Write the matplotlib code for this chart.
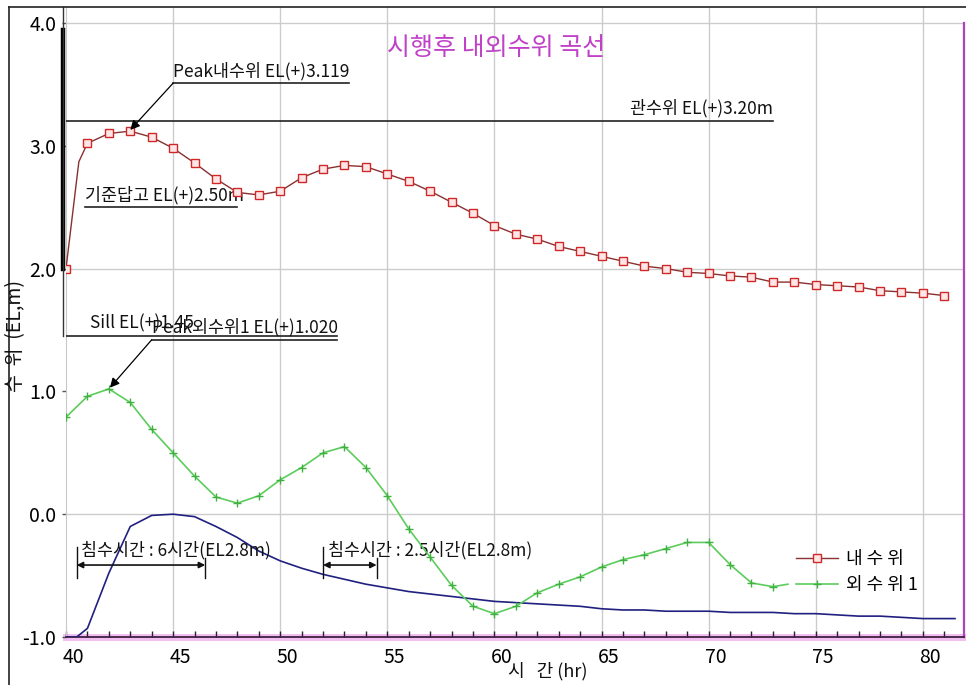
import matplotlib
matplotlib.use("Agg")
import matplotlib.pyplot as plt
from matplotlib.lines import Line2D
from matplotlib.transforms import ScaledTranslation

plt.rcParams["font.family"] = ["Noto Sans CJK KR", "DejaVu Sans"]

# ---- data -------------------------------------------------------------
inner_hours = [40, 40.6, 41, 42, 43, 44, 45, 46, 47, 48, 49, 50, 51, 52, 53, 54,
               55, 56, 57, 58, 59, 60, 61, 62, 63, 64, 65, 66, 67, 68, 69, 70,
               71, 72, 73, 74, 75, 76, 77, 78, 79, 80, 81]
inner_level = [2.00, 2.87, 3.02, 3.10, 3.119, 3.07, 2.98, 2.86, 2.73, 2.62, 2.60,
               2.63, 2.74, 2.81, 2.84, 2.83, 2.77, 2.71, 2.63, 2.54, 2.45, 2.35,
               2.28, 2.24, 2.18, 2.14, 2.10, 2.06, 2.02, 2.00, 1.97, 1.96, 1.94,
               1.93, 1.89, 1.89, 1.87, 1.86, 1.85, 1.82, 1.81, 1.80, 1.78]

outer_hours = [40, 41, 42, 43, 44, 45, 46, 47, 48, 49, 50, 51, 52, 53, 54, 55,
               56, 57, 58, 59, 60, 61, 62, 63, 64, 65, 66, 67, 68, 69, 70, 71,
               72, 73, 73.7]
outer_level = [0.79, 0.96, 1.020, 0.91, 0.69, 0.50, 0.31, 0.14, 0.09, 0.15, 0.28,
               0.38, 0.50, 0.55, 0.38, 0.15, -0.12, -0.35, -0.58, -0.75, -0.81,
               -0.75, -0.64, -0.57, -0.51, -0.43, -0.37, -0.33, -0.28, -0.23,
               -0.23, -0.41, -0.56, -0.59, -0.57]

aux_hours = [40, 40.5, 41, 42, 43, 44, 45, 46, 47, 48, 49, 50, 51, 52, 53, 54,
             55, 56, 57, 58, 59, 60, 61, 62, 63, 64, 65, 66, 67, 68, 69, 70, 71,
             72, 73, 74, 75, 76, 77, 78, 79, 80, 81, 81.5]
aux_level = [-1.00, -1.00, -0.93, -0.48, -0.10, -0.01, 0.00, -0.02, -0.10, -0.19,
             -0.30, -0.38, -0.44, -0.49, -0.53, -0.57, -0.60, -0.63, -0.65, -0.67,
             -0.69, -0.71, -0.72, -0.73, -0.74, -0.75, -0.77, -0.78, -0.78, -0.79,
             -0.79, -0.79, -0.80, -0.80, -0.80, -0.81, -0.81, -0.82, -0.83, -0.83,
             -0.84, -0.85, -0.85, -0.85]

levee_level = 3.20        # 관수위
paddy_level = 2.50        # 기준답고
sill_level = 1.45         # Sill
peak_inner = (43, 3.119)
peak_outer = (42, 1.020)
flood_spans = [(40.5, 46.5, "침수시간 : 6시간(EL2.8m)"),
               (52.0, 54.5, "침수시간 : 2.5시간(EL2.8m)")]

x_ticks = [40, 45, 50, 55, 60, 65, 70, 75, 80]
y_ticks = [-1.0, 0.0, 1.0, 2.0, 3.0, 4.0]

# ---- figure -----------------------------------------------------------
W, H = 966, 685
fig = plt.figure(figsize=(W / 100, H / 100), dpi=100)
fig.patch.set_facecolor("white")

# outer frame (top and left edges)
fig.add_artist(Line2D([9 / W, 1], [1 - 7 / H, 1 - 7 / H], transform=fig.transFigure,
                      color="#222222", lw=1.2))
fig.add_artist(Line2D([9 / W, 9 / W], [0, 1 - 7 / H], transform=fig.transFigure,
                      color="#222222", lw=1.2))

ax = fig.add_axes([66 / W, 48 / H, (964 - 66) / W, (678 - 48) / H])
ax.set_xlim(40, 81.92)
ax.set_ylim(-1.0, 4.13)

# grid
grid_c = "#cccccc"
for gx in x_ticks[1:]:
    ax.axvline(gx, color=grid_c, lw=1.0, zorder=0.5)
for gy in [0.0, 2.0, 4.0]:
    ax.axhline(gy, color=grid_c, lw=1.0, zorder=0.5)

# spines
ax.spines["top"].set_visible(False)
ax.spines["left"].set_color("#c8c8c8")
ax.spines["right"].set_color("#b040c0")
ax.spines["right"].set_linewidth(1.6)
ax.spines["right"].set_bounds(-1.0, 4.0)
ax.spines["bottom"].set_color("#402040")
ax.spines["bottom"].set_linewidth(1.3)
ax.axhline(-1.0, color="#e070e0", lw=5, alpha=0.45, zorder=1, clip_on=False)

# ticks
ax.set_xticks(x_ticks)
ax.set_xticklabels([str(v) for v in x_ticks])
ax.set_xticks(range(40, 82), minor=True)
ax.tick_params(axis="x", which="both", direction="in", length=4, width=1,
               color="#302030", labelsize=14, pad=7)
ax.set_yticks(y_ticks)
ax.set_yticklabels([f"{v:.1f}" for v in y_ticks])
ax.tick_params(axis="y", direction="out", length=3, width=1, color="#555555",
               labelsize=14, pad=4)
shift = ScaledTranslation(5 / 72, 0, fig.dpi_scale_trans)
for lab in ax.get_xticklabels():
    lab.set_transform(lab.get_transform() + shift)

# ---- series -----------------------------------------------------------
marker_idx = [i for i, h in enumerate(inner_hours) if float(h).is_integer()]
ax.plot(inner_hours, inner_level, color="#8a3030", lw=1.0, marker="s", ms=5.5,
        mfc="#ffe6e6", mec="#d02828", mew=1.0, markevery=marker_idx,
        label="내 수 위", zorder=4)
outer_idx = [i for i, h in enumerate(outer_hours) if float(h).is_integer()]
ax.plot(outer_hours, outer_level, color="#5ccc5c", lw=1.2, marker="+", ms=6,
        mec="#40b040", mew=1.0, markevery=outer_idx, label="외 수 위 1", zorder=4)
ax.plot(aux_hours, aux_level, color="#202080", lw=1.2, zorder=3)

# ---- reference lines and notes -----------------------------------------
txt = dict(fontsize=12.5, color="#111111")

# wall at the left edge
ax.plot([39.88, 39.88], [2.0, 3.94], color="black", lw=3.2, clip_on=False, zorder=5)
ax.plot([39.86, 39.86], [sill_level, 4.13], color="#333333", lw=1.0, clip_on=False, zorder=5)

# levee water level
ax.plot([40, 73.0], [levee_level, levee_level], color="#222222", lw=1.2, zorder=3)
ax.text(73.0, levee_level + 0.03, "관수위 EL(+)3.20m", ha="right", va="bottom", **txt)

# paddy reference level
ax.plot([40.9, 48.0], [paddy_level, paddy_level], color="#222222", lw=1.2, zorder=3)
ax.text(40.9, paddy_level + 0.02, "기준답고 EL(+)2.50m", ha="left", va="bottom", **txt)

# sill level
ax.plot([39.86, 52.65], [sill_level, sill_level], color="#222222", lw=1.2, zorder=3)
ax.text(41.1, sill_level + 0.03, "Sill EL(+)1.45", ha="left", va="bottom", **txt)

# peak of inner water level
ax.plot([45.0, 53.2], [3.51, 3.51], color="#222222", lw=1.2, zorder=3)
ax.text(45.0, 3.53, "Peak내수위 EL(+)3.119", ha="left", va="bottom", **txt)
ax.annotate("", xy=(peak_inner[0], peak_inner[1] + 0.01), xytext=(45.0, 3.51),
            arrowprops=dict(arrowstyle="-|>", color="black", lw=0.9,
                            mutation_scale=14, shrinkA=0, shrinkB=0), zorder=6)

# peak of outer water level
ax.plot([44.0, 52.65], [1.42, 1.42], color="#222222", lw=1.2, zorder=3)
ax.text(44.0, 1.45, "Peak외수위1 EL(+)1.020", ha="left", va="bottom", **txt)
ax.annotate("", xy=(peak_outer[0] + 0.05, peak_outer[1] + 0.01), xytext=(44.0, 1.42),
            arrowprops=dict(arrowstyle="-|>", color="black", lw=0.9,
                            mutation_scale=14, shrinkA=0, shrinkB=0), zorder=6)

# flooding durations
for x0, x1, label in flood_spans:
    ax.plot([x0, x0], [-0.267, -0.52], color="#111111", lw=1.0, zorder=5)
    ax.plot([x1, x1], [-0.357, -0.52], color="#111111", lw=1.0, zorder=5)
    ax.annotate("", xy=(x1, -0.414), xytext=(x0, -0.414),
                arrowprops=dict(arrowstyle="<|-|>", color="#111111", lw=1.2,
                                mutation_scale=9, shrinkA=0, shrinkB=0), zorder=5)
    ax.text(x0 + 0.22, -0.37, label, ha="left", va="bottom", **txt)

# title
ax.text(60.1, 3.80, "시행후 내외수위 곡선", ha="center", va="center",
        fontsize=18, color="#c040c8")

# axis titles
fig.text(548 / W, 1 - 671 / H, "시   간 (hr)", ha="center", va="center",
         fontsize=13, color="#111111")
fig.text(16 / W, 1 - 336 / H, "수  위  (EL,m)", ha="center", va="center",
         rotation=90, fontsize=14, color="#111111")

# legend
ax.legend(loc="upper left", bbox_to_anchor=(796 / W, 1 - 550 / H),
          bbox_transform=fig.transFigure, frameon=False, fontsize=13,
          handlelength=2.3, handletextpad=0.45, labelspacing=0.45, borderpad=0,
          borderaxespad=0)

fig.savefig("out.png", dpi=100, facecolor="white")
